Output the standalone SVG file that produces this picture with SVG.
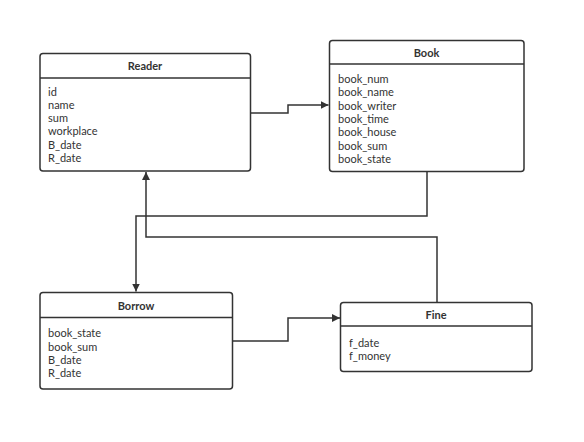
<svg xmlns="http://www.w3.org/2000/svg" width="584" height="442" viewBox="0 0 584 442">
<defs>
<style>
.box{fill:#fff;stroke:#333;stroke-width:1.5}
.sep{stroke:#333;stroke-width:1.5}
.title{font-family:Lato,"Open Sans",sans-serif;font-size:11px;font-weight:bold;fill:#333;text-anchor:middle}
.attr{font-family:Lato,"Open Sans",sans-serif;font-size:11px;fill:#333}
.conn{fill:none;stroke:#333;stroke-width:1.5}
</style>
<marker id="arr" viewBox="0 0 10 10" refX="10" refY="5" markerWidth="8" markerHeight="8" markerUnits="userSpaceOnUse" orient="auto">
<path d="M0,0 L10,5 L0,10 z" fill="#333"/>
</marker>
</defs>
<rect width="584" height="442" fill="#fff"/>
<g id="connectors">
<path class="conn" d="M250.5,113 H288 V105 H328.5" marker-end="url(#arr)"/>
<path class="conn" d="M427,172 V216 H136 V291.5" marker-end="url(#arr)"/>
<path class="conn" d="M437,302 V237 H146 V172" marker-end="url(#arr)"/>
<path class="conn" d="M233,341 H288 V318 H340" marker-end="url(#arr)"/>
</g>
<g id="reader">
<rect class="box" x="40" y="53.5" width="210.5" height="117.5" rx="3"/>
<line class="sep" x1="40" y1="78" x2="250.5" y2="78"/>
<text class="title" x="145" y="70">Reader</text>
<text class="attr" x="48" y="95.5">id</text>
<text class="attr" x="48" y="108.8">name</text>
<text class="attr" x="48" y="122.1">sum</text>
<text class="attr" x="48" y="135.4">workplace</text>
<text class="attr" x="48" y="148.7">B_date</text>
<text class="attr" x="48" y="162">R_date</text>
</g>
<g id="book">
<rect class="box" x="329.5" y="40.5" width="194.5" height="131" rx="3"/>
<line class="sep" x1="329.5" y1="64" x2="524" y2="64"/>
<text class="title" x="426.5" y="57">Book</text>
<text class="attr" x="338" y="83">book_num</text>
<text class="attr" x="338" y="96.3">book_name</text>
<text class="attr" x="338" y="109.6">book_writer</text>
<text class="attr" x="338" y="122.9">book_time</text>
<text class="attr" x="338" y="136.2">book_house</text>
<text class="attr" x="338" y="149.5">book_sum</text>
<text class="attr" x="338" y="162.8">book_state</text>
</g>
<g id="borrow">
<rect class="box" x="40" y="292.5" width="192.5" height="96.5" rx="3"/>
<line class="sep" x1="40" y1="317.5" x2="232.5" y2="317.5"/>
<text class="title" x="136" y="309.5">Borrow</text>
<text class="attr" x="48" y="337.3">book_state</text>
<text class="attr" x="48" y="350.6">book_sum</text>
<text class="attr" x="48" y="363.9">B_date</text>
<text class="attr" x="48" y="377.2">R_date</text>
</g>
<g id="fine">
<rect class="box" x="340.5" y="302.5" width="191.5" height="69" rx="3"/>
<line class="sep" x1="340.5" y1="326" x2="532" y2="326"/>
<text class="title" x="436" y="319">Fine</text>
<text class="attr" x="349" y="346.7">f_date</text>
<text class="attr" x="349" y="360">f_money</text>
</g>
</svg>
